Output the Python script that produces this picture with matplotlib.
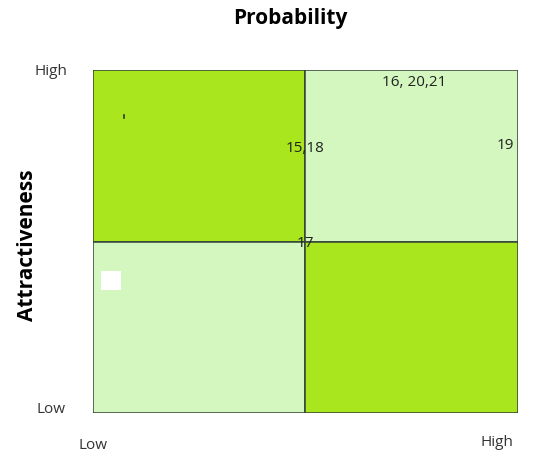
import matplotlib
matplotlib.use('Agg')
import matplotlib.pyplot as plt
from matplotlib.patches import Rectangle

# quadrants: (probability start, attractiveness start, colour)
quad_x = [0, 1, 0, 1]
quad_y = [1, 1, 0, 0]
quad_colors = ['#a9e61e', '#d4f7c0', '#d4f7c0', '#a9e61e']

# item numbers placed on the grid
item_labels = ['16, 20,21', '15,18', '19', '17']
item_prob = [1.51, 1.0, 1.94, 1.0]
item_attr = [1.93, 1.54, 1.56, 0.99]

plt.rcParams['font.family'] = ['Open Sans', 'DejaVu Sans']

fig = plt.figure(figsize=(5.45, 4.59), dpi=100)
ax = fig.add_axes([0.1706, 0.1002, 0.7799, 0.7473])

for x, y, c in zip(quad_x, quad_y, quad_colors):
    ax.add_patch(Rectangle((x, y), 1, 1, facecolor=c, edgecolor='#34423a', linewidth=1.1))

# small white box in lower-left quadrant
ax.add_patch(Rectangle((0.038, 0.717), 0.094, 0.111, facecolor='white', edgecolor='none'))
ax.plot([0.146, 0.146], [1.74, 1.72], color='#2a3a2a', linewidth=1.2)

for lab, px, py in zip(item_labels, item_prob, item_attr):
    ax.text(px, py, lab, ha='center', va='center', fontsize=11, color='#222222')

ax.set_xlim(0, 2)
ax.set_ylim(0, 2)
for s in ax.spines.values():
    s.set_visible(False)

ax.set_xticks([0.0, 1.9])
ax.set_xticklabels(['Low', 'High'], fontsize=11, color='#333333')
ax.get_xticklabels()[1].set_y(0.008)
ax.set_yticks([0.03, 2.0])
ax.set_yticklabels(['Low', 'High'], fontsize=11, color='#333333')
ax.tick_params(axis='x', length=0, pad=18)
ax.tick_params(axis='y', length=0, pad=30)
for t in ax.get_yticklabels():
    t.set_ha('center')

fig.text(0.532, 0.96, 'Probability', ha='center', va='center', fontsize=15, fontweight='bold')
fig.text(0.05, 0.466, 'Attractiveness', ha='center', va='center', rotation=90, fontsize=15, fontweight='bold')

fig.savefig('out.png', dpi=100)
